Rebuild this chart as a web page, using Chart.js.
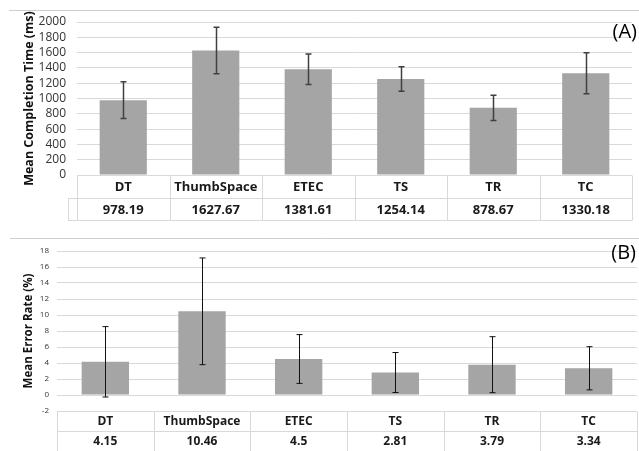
<!DOCTYPE html>
<html><head><meta charset="utf-8">
<script src="https://cdn.jsdelivr.net/npm/chart.js@4"></script>
<style>
html,body{margin:0;padding:0;background:#fff;}
#wrap{position:relative;width:639px;height:451px;overflow:hidden;background:#fff;}
canvas{position:absolute;left:0;}
</style></head><body>
<div id="wrap">
<canvas id="cA" width="639" height="225" style="top:0"></canvas>
<canvas id="cB" width="639" height="226" style="top:225px"></canvas>
</div>
<script>
const categories = ['DT','ThumbSpace','ETEC','TS','TR','TC'];
const timeMeans = [978.19,1627.67,1381.61,1254.14,878.67,1330.18];
const timeErrors = [240,303,200,160,165,268];
const timeLabels = ['978.19','1627.67','1381.61','1254.14','878.67','1330.18'];
const errorMeans = [4.15,10.46,4.5,2.81,3.79,3.34];
const errorErrors = [4.4,6.67,3.05,2.5,3.5,2.7];
const errorLabels = ['4.15','10.46','4.5','2.81','3.79','3.34'];
const titleA = 'Mean Completion Time (ms)';
const titleB = 'Mean Error Rate (%)';
const panelA = '(A)';
const panelB = '(B)';

const FONT = "'Open Sans', 'Noto Sans', sans-serif";
const GRID = '#d9d9d9';
const BAR = '#a5a5a5';

function decoPlugin(cfg) {
  return {
    id: 'deco',
    afterDatasetsDraw(chart) {
      const ctx = chart.ctx, ys = chart.scales.y;
      const meta = chart.getDatasetMeta(0);
      ctx.save();
      ctx.strokeStyle = cfg.errColor;
      ctx.lineWidth = cfg.errWidth;
      cfg.means.forEach((m, i) => {
        const x = Math.round(meta.data[i].x) + 0.5;
        const yt = ys.getPixelForValue(m + cfg.errs[i]);
        const yb = ys.getPixelForValue(m - cfg.errs[i]);
        ctx.beginPath();
        ctx.moveTo(x, yt); ctx.lineTo(x, yb);
        ctx.moveTo(x - 3, yt); ctx.lineTo(x + 3, yt);
        ctx.moveTo(x - 3, yb); ctx.lineTo(x + 3, yb);
        ctx.stroke();
      });
      ctx.restore();
    },
    afterDraw(chart) {
      const ctx = chart.ctx, xs = chart.scales.x, ca = chart.chartArea;
      const n = categories.length;
      const edges = [];
      for (let i = 0; i <= n; i++) {
        edges.push(i === 0 ? ca.left : i === n ? ca.right : (xs.getPixelForValue(i - 1) + xs.getPixelForValue(i)) / 2);
      }
      const y0 = Math.round(ca.bottom) + 0.5;
      const y1 = y0 + cfg.h1, y2 = y1 + cfg.h2;
      const hl = cfg.headLeft !== undefined ? cfg.headLeft : ca.left;
      ctx.save();
      ctx.strokeStyle = GRID;
      ctx.lineWidth = 1;
      ctx.beginPath();
      ctx.moveTo(ca.left, y0); ctx.lineTo(ca.right, y0);
      ctx.moveTo(hl, y1); ctx.lineTo(ca.right, y1);
      ctx.moveTo(hl, y2); ctx.lineTo(ca.right, y2);
      edges.forEach(e => { const xe = Math.round(e) + 0.5; ctx.moveTo(xe, y0); ctx.lineTo(xe, y2); });
      const xh = Math.round(hl) + 0.5;
      ctx.moveTo(xh, y1); ctx.lineTo(xh, y2);
      ctx.stroke();
      ctx.strokeStyle = '#cfcfcf';
      ctx.beginPath();
      ctx.moveTo(cfg.borderX, cfg.borderY + 0.5); ctx.lineTo(639, cfg.borderY + 0.5);
      ctx.stroke();
      ctx.fillStyle = '#1a1a1a';
      ctx.textAlign = 'center';
      ctx.textBaseline = 'middle';
      ctx.font = 'bold ' + cfg.tableFont + 'px ' + FONT;
      for (let i = 0; i < n; i++) {
        const cx = (edges[i] + edges[i + 1]) / 2;
        ctx.fillText(categories[i], cx, (y0 + y1) / 2 + 0.5);
        ctx.fillText(cfg.labels[i], cx, (y1 + y2) / 2 + 0.5);
      }
      ctx.font = '500 ' + cfg.panelFont + 'px ' + FONT;
      ctx.textAlign = 'right';
      ctx.fillStyle = '#000';
      ctx.fillText(cfg.panel, cfg.panelX, cfg.panelY);
      ctx.restore();
    }
  };
}

function makeChart(id, o) {
  return new Chart(document.getElementById(id), {
    type: 'bar',
    data: {
      labels: categories,
      datasets: [{
        data: o.means,
        backgroundColor: BAR,
        borderWidth: 0,
        barPercentage: 1,
        categoryPercentage: o.catPct
      }]
    },
    options: {
      responsive: false,
      animation: false,
      devicePixelRatio: 1,
      layout: { padding: o.padding },
      plugins: { legend: { display: false }, tooltip: { enabled: false }, title: { display: false } },
      scales: {
        x: { display: false },
        y: {
          min: o.min, max: o.max,
          afterFit: s => { s.width = o.axisWidth; },
          border: { display: false },
          grid: { color: GRID, drawTicks: false, lineWidth: 1 },
          ticks: { stepSize: o.step, autoSkip: false, padding: o.tickPad, color: '#333',
                   callback: v => String(v),
                   font: { family: FONT, size: o.tickFont } },
          title: { display: true, text: o.title, color: '#111', padding: { top: o.titlePad, bottom: 0 }, font: { family: FONT, size: o.titleFont, weight: 'bold' } }
        }
      }
    },
    plugins: [decoPlugin(o.deco)]
  });
}

makeChart('cA', {
  means: timeMeans, catPct: 0.51,
  padding: { top: 22, bottom: 50, left: 0, right: 7 },
  min: 0, max: 2000, step: 200, axisWidth: 77, tickPad: 11, tickFont: 12,
  title: titleA, titleFont: 12.5, titlePad: 22,
  deco: { means: timeMeans, errs: timeErrors, errColor: '#404040', errWidth: 1.5,
          h1: 23, h2: 22, headLeft: 68, labels: timeLabels, tableFont: 13,
          borderX: 9, borderY: 10, panel: panelA, panelFont: 20, panelX: 637, panelY: 32 }
});

makeChart('cB', {
  means: errorMeans, catPct: 0.49,
  padding: { top: 26, bottom: 40, left: 0, right: 2 },
  min: -2, max: 18, step: 2, axisWidth: 57, tickPad: 8, tickFont: 8,
  title: titleB, titleFont: 11.5, titlePad: 22,
  deco: { means: errorMeans, errs: errorErrors, errColor: '#111', errWidth: 1,
          h1: 20, h2: 20, labels: errorLabels, tableFont: 12,
          borderX: 10, borderY: 13, panel: panelB, panelFont: 20, panelX: 636, panelY: 28 }
});
</script>
</body></html>
